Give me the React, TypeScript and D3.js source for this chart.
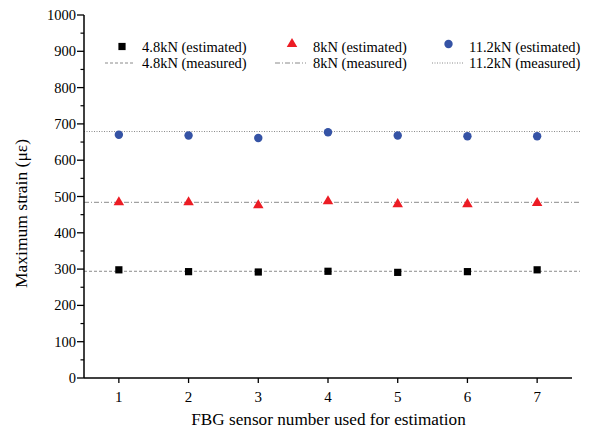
import React from "react";
import * as d3 from "d3";

const sensors = [1, 2, 3, 4, 5, 6, 7];
const est48 = [298, 293, 292, 294, 291, 293, 298];
const est8 = [484, 484, 476, 487, 479, 479, 482];
const est112 = [670, 668, 661, 677, 668, 666, 666];
const meas48 = 294;
const meas8 = 484;
const meas112 = 679;
const yTicks = [0, 100, 200, 300, 400, 500, 600, 700, 800, 900, 1000];

const W = 591;
const H = 431;
const M = { left: 84, right: 572, top: 15, bottom: 378 };
const FONT = "Liberation Serif";
const RED = "#ec1c24";
const BLUE = "#3553a5";
const LINE = "#8a8a8a";

export default function App() {
  const x = d3.scaleLinear().domain([0.5, 7.5]).range([M.left, M.right]);
  const y = d3.scaleLinear().domain([0, 1000]).range([M.bottom, M.top]);
  const minor = d3.range(50, 1000, 100);
  const tri = d3.symbol().type(d3.symbolTriangle).size(48)() as string;
  const sq = d3.symbol().type(d3.symbolSquare).size(52)() as string;

  const legendLines = [
    { x1: 105, x2: 135, dash: "3,2", label: "4.8kN (measured)", tx: 142 },
    { x1: 275, x2: 306, dash: "5,2,1,2", label: "8kN (measured)", tx: 313 },
    { x1: 432, x2: 463, dash: "1,1.5", label: "11.2kN (measured)", tx: 469 },
  ];

  return (
    <svg width={W} height={H} style={{ position: "absolute", left: 0, top: 0 }} fontFamily={FONT}>
      <rect width={W} height={H} fill="#fff" />
      {[
        { v: meas48, dash: "3,2" },
        { v: meas8, dash: "5,2,1,2" },
        { v: meas112, dash: "1,1.5" },
      ].map((l, i) => (
        <line key={i} x1={M.left} x2={M.right + 8} y1={y(l.v)} y2={y(l.v)} stroke={LINE} strokeWidth={1} strokeDasharray={l.dash} />
      ))}
      <line x1={M.left} x2={M.left} y1={M.top} y2={M.bottom} stroke="#000" strokeWidth={1.5} />
      <line x1={M.left} x2={M.right} y1={M.bottom} y2={M.bottom} stroke="#000" strokeWidth={1.5} />
      {yTicks.map((t) => (
        <g key={t}>
          <line x1={M.left - 7} x2={M.left} y1={y(t)} y2={y(t)} stroke="#000" strokeWidth={1.3} />
          <text x={M.left - 8} y={y(t)} dy="0.35em" textAnchor="end" fontSize={14.5} fontFamily={FONT}>
            {t}
          </text>
        </g>
      ))}
      {minor.map((t) => (
        <line key={t} x1={M.left - 3.5} x2={M.left} y1={y(t)} y2={y(t)} stroke="#000" strokeWidth={1.2} />
      ))}
      {sensors.map((s) => (
        <g key={s}>
          <line x1={x(s)} x2={x(s)} y1={M.bottom} y2={M.bottom + 5} stroke="#000" strokeWidth={1.3} />
          <text x={x(s)} y={M.bottom + 24} textAnchor="middle" fontSize={15} fontFamily={FONT}>
            {s}
          </text>
        </g>
      ))}
      <text x={(M.left + M.right) / 2 + 0.5} y={M.bottom + 47} textAnchor="middle" fontSize={17.2} fontFamily={FONT}>
        FBG sensor number used for estimation
      </text>
      <text transform={`translate(27,${(M.top + M.bottom) / 2 + 17}) rotate(-90)`} textAnchor="middle" fontSize={17.5} fontFamily={FONT}>
        Maximum strain (με)
      </text>
      {sensors.map((s, i) => (
        <path key={"s" + s} d={sq} transform={`translate(${x(s)},${y(est48[i])})`} fill="#000" />
      ))}
      {sensors.map((s, i) => (
        <path key={"t" + s} d={tri} transform={`translate(${x(s)},${y(est8[i])})`} fill={RED} />
      ))}
      {sensors.map((s, i) => (
        <circle key={"c" + s} cx={x(s)} cy={y(est112[i])} r={4.2} fill={BLUE} />
      ))}
      <path d={sq} transform="translate(122,46.5)" fill="#000" />
      <text x={142} y={46.5} dy="0.35em" fontSize={14.5} fontFamily={FONT}>4.8kN (estimated)</text>
      <path d={tri} transform="translate(292,44)" fill={RED} />
      <text x={313} y={46.5} dy="0.35em" fontSize={14.5} fontFamily={FONT}>8kN (estimated)</text>
      <circle cx={448.5} cy={44} r={4.2} fill={BLUE} />
      <text x={469} y={46.5} dy="0.35em" fontSize={14.5} fontFamily={FONT}>11.2kN (estimated)</text>
      {legendLines.map((l, i) => (
        <g key={i}>
          <line x1={l.x1} x2={l.x2} y1={63} y2={63} stroke={LINE} strokeWidth={1} strokeDasharray={l.dash} />
          <text x={l.tx} y={63} dy="0.35em" fontSize={14.5} fontFamily={FONT}>{l.label}</text>
        </g>
      ))}
    </svg>
  );
}
